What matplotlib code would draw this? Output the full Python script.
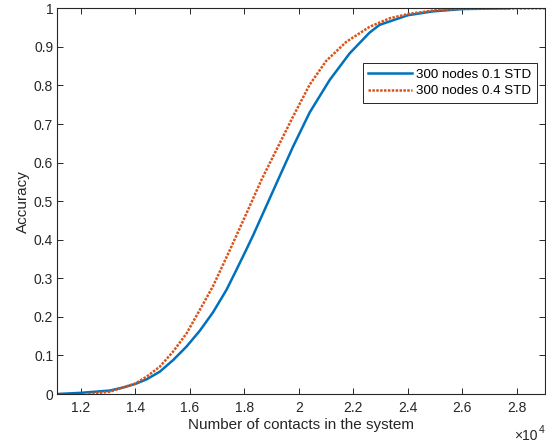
import matplotlib
matplotlib.use("Agg")
import matplotlib.pyplot as plt
from matplotlib.ticker import FuncFormatter, FixedLocator

plt.rcParams['font.family'] = ['Liberation Sans', 'DejaVu Sans']

# Data
x_std01 = [11143, 12000, 13073, 13560, 14000, 14418, 14905, 15392, 15883, 16370,
           16857, 17348, 17714, 18080, 18323, 18813, 19238, 19788, 20400, 21132,
           21865, 22597, 22963, 24000, 24916, 26000, 27726]
y_std01 = [0.0, 0.003, 0.009, 0.017, 0.026, 0.038, 0.058, 0.088, 0.123, 0.164,
           0.212, 0.270, 0.322, 0.375, 0.411, 0.488, 0.555, 0.641, 0.730, 0.814,
           0.883, 0.937, 0.957, 0.982, 0.992, 0.998, 1.0]

x_std04 = [12280, 13073, 14000, 14418, 14905, 15392, 15883, 16370, 16857, 17470,
           18080, 18630, 19180, 19788, 20400, 21010, 21743, 22597, 23330, 24000,
           25000, 26000, 29050]
y_std04 = [0.0, 0.006, 0.027, 0.045, 0.071, 0.110, 0.157, 0.218, 0.280, 0.373,
           0.468, 0.555, 0.633, 0.719, 0.802, 0.864, 0.913, 0.952, 0.974, 0.985,
           0.995, 0.999, 1.0]

labels = ['300 nodes 0.1 STD', '300 nodes 0.4 STD']
x_ticks = [12000, 14000, 16000, 18000, 20000, 22000, 24000, 26000, 28000]
y_ticks = [0, 0.1, 0.2, 0.3, 0.4, 0.5, 0.6, 0.7, 0.8, 0.9, 1]

W, H = 546, 447
fig = plt.figure(figsize=(W / 100, H / 100), dpi=100)
ax = fig.add_axes([57.3 / W, 1 - 394 / H, (545.5 - 57.3) / W, (394 - 8.3) / H])

ax.plot(x_std01, y_std01, color='#0072BD', lw=1.8, solid_joinstyle='round',
        label=labels[0])
ax.plot(x_std04, y_std04, color='#D95319', lw=1.8, ls=(0, (1, 0.55)),
        dash_capstyle='butt', label=labels[1])

ax.set_xlim(11143, 29050)
ax.set_ylim(0, 1)
ax.xaxis.set_major_locator(FixedLocator(x_ticks))
ax.yaxis.set_major_locator(FixedLocator(y_ticks))
ax.xaxis.set_major_formatter(FuncFormatter(lambda v, p: '%g' % (v / 1e4)))
ax.yaxis.set_major_formatter(FuncFormatter(lambda v, p: '%g' % v))

ax.tick_params(direction='in', top=True, right=True, length=4, width=0.7,
               labelsize=10, colors='#262626')
ax.tick_params(axis='x', pad=5)
ax.tick_params(axis='y', pad=3)
for s in ax.spines.values():
    s.set_linewidth(0.8)
    s.set_color('#262626')

ax.set_xlabel('Number of contacts in the system', fontsize=11, color='#262626', labelpad=2)
ax.set_ylabel('Accuracy', fontsize=11, color='#262626', labelpad=3)

# offset multiplier text (×10^4)
fig.text(538 / W, 1 - 436 / H, '\u00d710', ha='right', va='center',
         fontsize=10, color='#262626')
fig.text(538.5 / W, 1 - 430 / H, '4', ha='left', va='center',
         fontsize=7.5, color='#262626')

leg = ax.legend(loc='upper right',
                bbox_to_anchor=((536.7 - 57.3) / (545.5 - 57.3), (394 - 63.3) / (394 - 8.3)),
                fontsize=9.6, frameon=True, fancybox=False, handlelength=3.3,
                borderpad=0.4, labelspacing=0.3, handletextpad=0.3, borderaxespad=0)
leg.get_frame().set_edgecolor('#262626')
leg.get_frame().set_linewidth(0.7)
leg.get_frame().set_alpha(1)

fig.savefig('out.png', dpi=100)
